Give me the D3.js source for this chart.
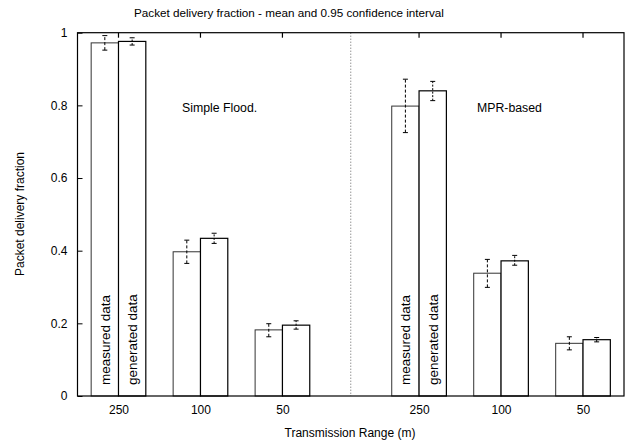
<!DOCTYPE html>
<html><head><meta charset="utf-8">
<script src="https://cdn.jsdelivr.net/npm/d3@7"></script>
<style>body{margin:0;background:#fff}text{font-family:"Liberation Sans",Arial,sans-serif;fill:#000}</style>
</head><body><svg id="c" width="635" height="446"></svg>
<script>
const groups = ["Simple Flood.", "MPR-based"];
const ranges = ["250", "100", "50"];
const measured = [0.972, 0.397, 0.182, 0.798, 0.338, 0.145];
const measuredLo = [0.952, 0.365, 0.163, 0.725, 0.299, 0.127];
const measuredHi = [0.992, 0.429, 0.199, 0.872, 0.376, 0.163];
const generated = [0.976, 0.434, 0.195, 0.840, 0.372, 0.155];
const generatedLo = [0.966, 0.420, 0.184, 0.813, 0.360, 0.149];
const generatedHi = [0.986, 0.448, 0.207, 0.866, 0.387, 0.161];
const slotPos = [0, 3, 6, 11, 14, 17];
const yTicks = [0, 0.2, 0.4, 0.6, 0.8, 1];

const svg = d3.select("#c");
const L = 77.5, R = 624, T = 32.7, B = 396;
const x = d3.scaleLinear().domain([-1.5, 18.5]).range([L, R]);
const y = d3.scaleLinear().domain([0, 1]).range([B, T]);
const unit = x(1) - x(0);

// title
svg.append("text").attr("x", 289).attr("y", 17).attr("text-anchor", "middle")
  .attr("font-size", 11.7).text("Packet delivery fraction - mean and 0.95 confidence interval");

// y axis
const ya = svg.append("g").attr("transform", `translate(${L},0)`)
  .call(d3.axisLeft(y).tickValues(yTicks).tickFormat(d => d === 0 || d === 1 ? d3.format("d")(d) : d3.format(".1f")(d)).tickSize(-5).tickPadding(10));
ya.select(".domain").remove();
ya.selectAll("line").attr("stroke", "#000");
ya.selectAll("text").attr("font-size", 12).style("font-family", "Liberation Sans, Arial, sans-serif");

// x axis
const xa = svg.append("g").attr("transform", `translate(0,${B})`)
  .call(d3.axisBottom(x).tickValues(slotPos).tickFormat((d, i) => ranges[i % 3]).tickSize(0).tickPadding(9));
xa.select(".domain").remove();
xa.selectAll("text").attr("font-size", 12).style("font-family", "Liberation Sans, Arial, sans-serif");

// top mirror ticks
svg.append("g").selectAll("line").data(slotPos).join("line")
  .attr("x1", d => x(d)).attr("x2", d => x(d)).attr("y1", T).attr("y2", T + 5)
  .attr("stroke", "#000").attr("stroke-width", 1.2);

// separator
svg.append("line").attr("x1", x(8.5)).attr("x2", x(8.5)).attr("y1", T).attr("y2", B)
  .attr("stroke", "#666").attr("stroke-dasharray", "1,2");

// bars
const bars = svg.append("g");
slotPos.forEach((p, i) => {
  bars.append("rect").attr("x", x(p - 1)).attr("y", y(measured[i]))
    .attr("width", unit).attr("height", B - y(measured[i]))
    .attr("fill", "#fff").attr("stroke", "#333").attr("stroke-width", 1);
  bars.append("rect").attr("x", x(p)).attr("y", y(generated[i]))
    .attr("width", unit).attr("height", B - y(generated[i]))
    .attr("fill", "#fff").attr("stroke", "#000").attr("stroke-width", 1.2);
});

// error bars
function err(cx, lo, hi, dash) {
  const g = svg.append("g").attr("stroke", "#000").attr("stroke-width", 1);
  g.append("line").attr("x1", cx).attr("x2", cx).attr("y1", y(lo)).attr("y2", y(hi)).attr("stroke-dasharray", dash);
  [lo, hi].forEach(v => g.append("line").attr("x1", cx - 2.5).attr("x2", cx + 2.5).attr("y1", y(v)).attr("y2", y(v)));
}
slotPos.forEach((p, i) => {
  err(x(p - 0.5), measuredLo[i], measuredHi[i], "3,2");
  err(x(p + 0.5), generatedLo[i], generatedHi[i], "2,1.5");
});

// rotated labels in 250 bars
[0, 3].forEach(i => {
  const p = slotPos[i];
  svg.append("text").attr("transform", `translate(${x(p - 0.5) + 5},385) rotate(-90)`)
    .attr("font-size", 13.5).text("measured data");
  svg.append("text").attr("transform", `translate(${x(p + 0.5) + 5},385) rotate(-90)`)
    .attr("font-size", 13.5).text("generated data");
});

// group labels
svg.append("text").attr("x", 182).attr("y", 112).attr("font-size", 12.3).text(groups[0]);
svg.append("text").attr("x", 477).attr("y", 112).attr("font-size", 12.3).text(groups[1]);

// frame
svg.append("rect").attr("x", L).attr("y", T).attr("width", R - L).attr("height", B - T)
  .attr("fill", "none").attr("stroke", "#000").attr("stroke-width", 1.2);

// axis titles
svg.append("text").attr("x", 350).attr("y", 437).attr("text-anchor", "middle").attr("font-size", 12)
  .text("Transmission Range (m)");
svg.append("text").attr("transform", `translate(24,214) rotate(-90)`).attr("text-anchor", "middle").attr("font-size", 12)
  .text("Packet delivery fraction");
</script></body></html>
